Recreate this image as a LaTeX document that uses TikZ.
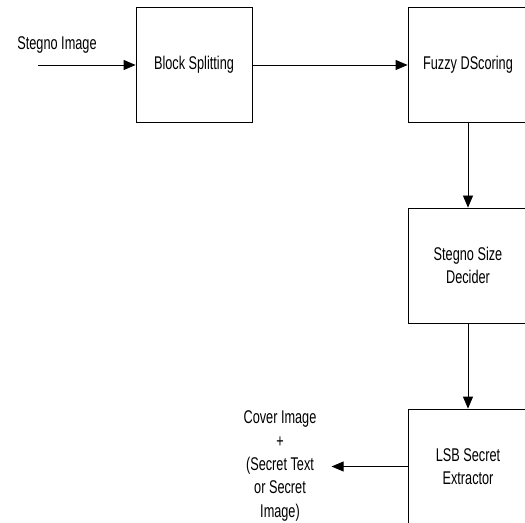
\documentclass[tikz,border=0pt]{standalone}
\usepackage{fontspec}
\setmainfont{Liberation Sans}[FakeStretch=0.69]
\usetikzlibrary{arrows.meta, positioning}
\definecolor{cline}{HTML}{000000}
\tikzset{
  every picture/.style={line width=0.8pt},
  block/.style={draw=cline, minimum width=#1, minimum height=115bp, align=center, inner sep=0pt, font=\fontsize{18.5}{23.5}\selectfont},
  block/.default=116bp,
  arrow/.style={-{Triangle[length=12bp, width=10bp]}, draw=cline},
  textnote/.style={align=center, inner sep=0pt, font=\fontsize{18.5}{23.5}\selectfont},
}
\begin{document}
\begin{tikzpicture}[x=1bp, y=-1bp]
  \useasboundingbox (0,0) rectangle (525,523);
  \clip (0,0) rectangle (525,523);
  % blocks
  \node[block] (split) at (194,64.5) {Block Splitting};
  \node[block=120bp] (fuzzy) at (468,64.5) {Fuzzy DScoring};
  \node[block=120bp] (decider) at (468,265.5) {Stegno Size\\Decider};
  \node[block=120bp] (extract) at (468,466.5) {LSB Secret\\Extractor};
  % input and output
  \node[textnote] (input) at (57,45) {Stegno Image};
  \coordinate (start) at (38,65);
  \node[textnote] (output) at (280,466) {Cover Image\\+\\(Secret Text\\or Secret\\Image)};
  % connectors
  \draw[arrow] (start) -- (start -| split.west);
  \draw[arrow] (split.east |- start) -- (fuzzy.west |- start);
  \draw[arrow] (fuzzy) -- (decider);
  \draw[arrow] (decider) -- (extract);
  \draw[arrow] (extract.west) -- ++(-76,0);
\end{tikzpicture}
\end{document}
